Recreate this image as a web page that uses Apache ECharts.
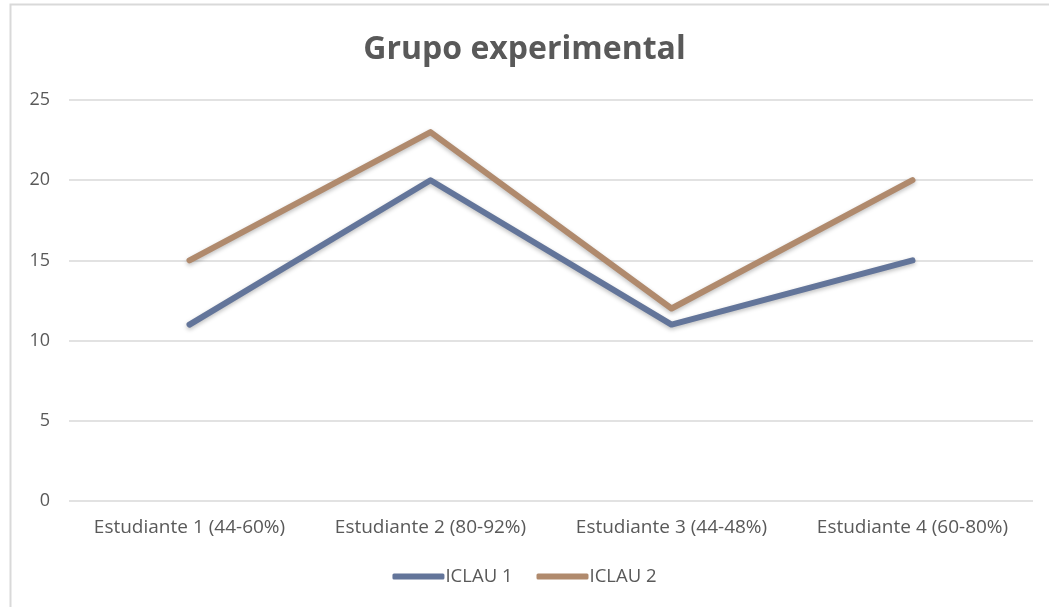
<!DOCTYPE html>
<html><head><meta charset="utf-8">
<script src="https://cdn.jsdelivr.net/npm/echarts@6/dist/echarts.min.js"></script>
<style>html,body{margin:0;padding:0;background:#fff}#c{width:1049px;height:607px}</style>
</head><body><div id="c"></div>
<script>
const categories = ['Estudiante 1 (44-60%)', 'Estudiante 2 (80-92%)', 'Estudiante 3 (44-48%)', 'Estudiante 4 (60-80%)'];
const iclau1 = [11, 20, 11, 15];
const iclau2 = [15, 23, 12, 20];
const seriesNames = ['ICLAU 1', 'ICLAU 2'];
const yTicks = [0, 5, 10, 15, 20, 25];

const chart = echarts.init(document.getElementById('c'));
const font = '"Open Sans", "Liberation Sans", sans-serif';
const mk = (name, data, color) => ({
  name, type: 'line', data, symbol: 'none', smooth: false,
  lineStyle: {width: 6, color, cap: 'round', join: 'round', shadowBlur: 4, shadowColor: 'rgba(0,0,0,0.25)', shadowOffsetY: 2},
  itemStyle: {color}
});
chart.setOption({
  animation: false,
  graphic: [{type: 'rect', shape: {x: 10.5, y: 4.5, width: 1100, height: 700}, style: {fill: 'none', stroke: '#d9d9d9', lineWidth: 2}, silent: true}],
  title: {text: 'Grupo experimental', left: 'center', top: 29,
    textStyle: {fontFamily: font, fontSize: 32, fontWeight: 'bold', color: '#595959'}},
  legend: {bottom: 16, left: 'center', itemWidth: 52, itemHeight: 6, itemGap: 24,
    icon: 'roundRect',
    textStyle: {fontFamily: font, fontSize: 18.5, color: '#595959', padding: [0,0,0,-4]},
    data: seriesNames},
  grid: {left: 69, right: 16, top: 100, bottom: 106, containLabel: false},
  xAxis: {type: 'category', data: categories, boundaryGap: true,
    axisLine: {show: false}, axisTick: {show: false},
    axisLabel: {interval: 0, fontFamily: font, fontSize: 19, color: '#595959', margin: 17}},
  yAxis: {type: 'value', min: yTicks[0], max: yTicks[yTicks.length-1], interval: 5,
    axisLine: {show: false}, axisTick: {show: false},
    axisLabel: {fontFamily: font, fontSize: 18, color: '#595959', margin: 19}},
  series: [mk(seriesNames[0], iclau1, '#63759a'), mk(seriesNames[1], iclau2, '#b08a6d')]
});
chart.setOption({yAxis: {splitLine: {lineStyle: {color: '#d9d9d9', width: 1.5}}}});
</script></body></html>
